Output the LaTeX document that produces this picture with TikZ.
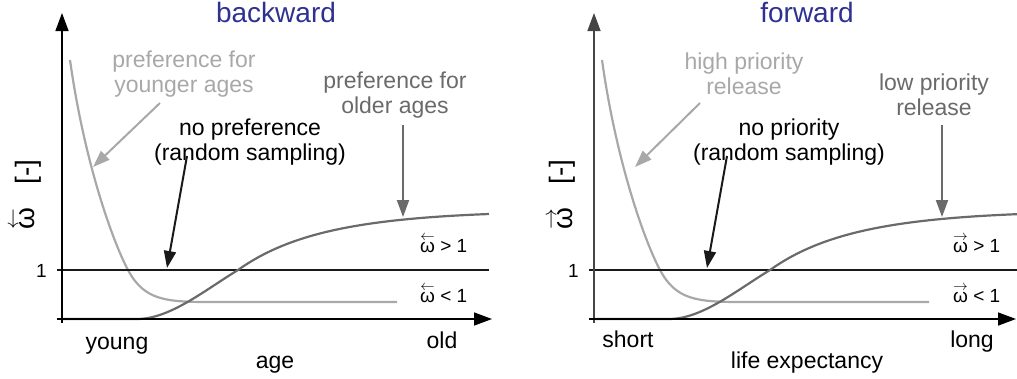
\documentclass[tikz,border=0pt]{standalone}
\usepackage{fontspec}
\setmainfont{Liberation Sans}
\usetikzlibrary{arrows.meta}
\definecolor{lgray}{HTML}{A8A8A8}
\definecolor{dgray}{HTML}{6A6A6A}
\definecolor{tblue}{HTML}{2E3192}
\definecolor{axgray}{HTML}{454545}
\newcommand\omL{\leavevmode\vbox{\offinterlineskip\halign{\hfil##\hfil\cr$\scriptstyle\leftarrow$\cr\noalign{\kern1.5pt}ω\cr}}}
\newcommand\omR{\leavevmode\vbox{\offinterlineskip\halign{\hfil##\hfil\cr$\scriptstyle\rightarrow$\cr\noalign{\kern1.5pt}ω\cr}}}
\tikzset{
  txt/.style={font=\fontsize{23}{25}\selectfont, inner sep=0pt, align=center},
  ttl/.style={font=\fontsize{28}{30}\selectfont, inner sep=0pt, text=tblue},
  sml/.style={font=\fontsize{19}{21}\selectfont, inner sep=0pt},
  ylab/.style={font=\fontsize{28}{30}\selectfont, inner sep=0pt, rotate=90},
  axis/.style={line width=1.5pt, -{Triangle[length=18pt,width=13pt]}},
  ptr/.style={line width=2pt, -{Triangle[length=17pt,width=12pt]}},
  unity/.style={line width=2.6pt, black!90},
  lcurve/.style={line width=2.2pt, lgray},
  dcurve/.style={line width=2.2pt, dgray},
}
\begin{document}
\begin{tikzpicture}[x=1pt,y=-1pt]
\useasboundingbox (0,0) rectangle (1017,378);
% ================= left plot =================
\begin{scope}
  \draw[line width=1.5pt] (57,319) -- (62,319);
  \draw[lcurve] (70,60) .. controls (84,160) and (112,240) .. (128,270)
        .. controls (144,300) and (165,302) .. (210,302) -- (397,302);
  \draw[unity] (57,270) -- (489,270);
  \draw[dcurve] (62,319) -- (137,319) .. controls (170,319) and (205,290) .. (238,270)
        .. controls (290,233) and (360,219) .. (489,214);
  \draw[axis, black] (62,323) -- (62,13);
  \draw[axis, black] (57,319) -- (492,319);
\end{scope}
% ================= right plot =================
\begin{scope}[xshift=532pt]
  \draw[line width=1.5pt] (57,319) -- (62,319);
  \draw[lcurve] (70,60) .. controls (84,160) and (112,240) .. (128,270)
        .. controls (144,300) and (165,302) .. (210,302) -- (397,302);
  \draw[unity] (57,270) -- (489,270);
  \draw[dcurve] (62,319) -- (137,319) .. controls (170,319) and (205,290) .. (238,270)
        .. controls (290,233) and (360,219) .. (489,214);
  \draw[axis, axgray] (62,323) -- (62,13);
  \draw[axis, black] (57,319) -- (484,319);
\end{scope}
% ================= texts left =================
\node[ttl, anchor=base] (tB) at (276,22) {backward};
\node[txt, text=lgray] (yng) at (184,74) {preference for\\younger ages};
\node[txt, text=dgray] (old) at (395,95) {preference for\\older ages};
\node[txt, text=black] (nop) at (250,142) {no preference\\(random sampling)};
\node[txt, anchor=base] (young) at (117,349) {young};
\node[txt, anchor=base] (age) at (275,368) {age};
\node[txt, anchor=base] (oldl) at (442,348) {old};
\node[sml, anchor=base west] (gtL) at (420,252) {\omL{} > 1};
\node[sml, anchor=base west] (ltL) at (420,302) {\omL{} < 1};
\node[sml, anchor=base east] (oneL) at (47,277) {1};
\node[ylab] (wL) at (23,219) {\omL};
\node[ylab] (uL) at (28,172) {[-]};
% ================= texts right =================
\node[ttl, anchor=base] (tF) at (807,22) {forward};
\node[txt, text=lgray] (hig) at (744,74) {high priority\\release};
\node[txt, text=dgray] (low) at (934,95) {low priority\\release};
\node[txt, text=black] (nopr) at (789,142) {no priority\\(random sampling)};
\node[txt, anchor=base] (short) at (628,347) {short};
\node[txt, anchor=base] (life) at (807,368) {life expectancy};
\node[txt, anchor=base] (long) at (972,347) {long};
\node[sml, anchor=base west] (gtR) at (953,252) {\omR{} > 1};
\node[sml, anchor=base west] (ltR) at (953,302) {\omR{} < 1};
\node[sml, anchor=base east] (oneR) at (579,277) {1};
\node[ylab] (wR) at (561,219) {\omR};
\node[ylab] (uR) at (562,172) {[-]};
% ================= pointers =================
\coordinate (yngS) at (160,103); \coordinate (yngE) at (93,167);
\coordinate (nopS) at (187,156); \coordinate (nopE) at (167,268);
\coordinate (oldS) at (403,125); \coordinate (oldE) at (403,217);
\draw[ptr, lgray] (yngS) -- (yngE);
\draw[ptr, black!90] (nopS) -- (nopE);
\draw[ptr, dgray] (oldS) -- (oldE);
\coordinate (higS) at (700,103); \coordinate (higE) at (635,167);
\coordinate (noprS) at (727,156); \coordinate (noprE) at (707,268);
\coordinate (lowS) at (942,125); \coordinate (lowE) at (942,217);
\draw[ptr, lgray] (higS) -- (higE);
\draw[ptr, black!90] (noprS) -- (noprE);
\draw[ptr, dgray] (lowS) -- (lowE);
\end{tikzpicture}
\end{document}
